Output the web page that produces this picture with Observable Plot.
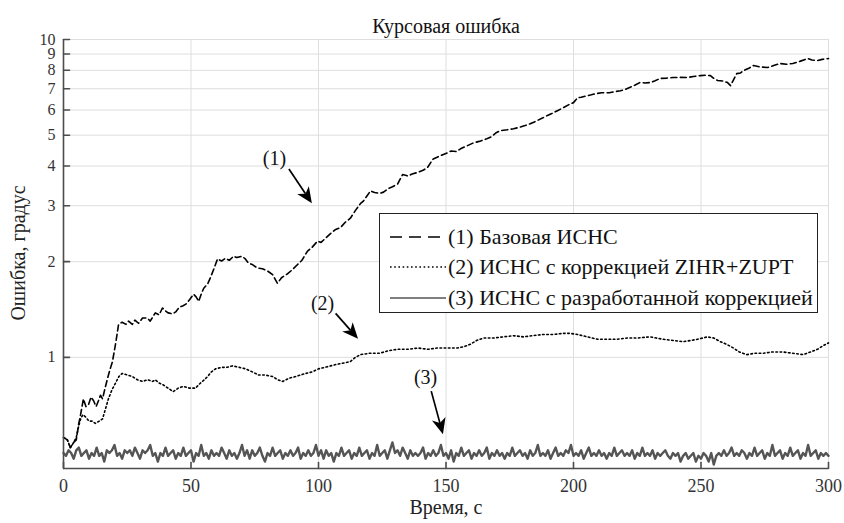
<!DOCTYPE html>
<html><head><meta charset="utf-8">
<script src="https://cdn.jsdelivr.net/npm/d3@7"></script>
<script src="https://cdn.jsdelivr.net/npm/@observablehq/plot@0.6"></script>
<style>
body{margin:0;background:#fff;}
#wrap{position:relative;width:844px;height:523px;font-family:'Liberation Serif',serif;}
#legend{position:absolute;left:379px;top:213px;width:437px;height:98px;border:1px solid #222;background:#fff;}
.row{position:absolute;left:9px;height:30px;display:flex;align-items:center;font-family:'Liberation Serif',serif;font-size:22px;color:#111;white-space:nowrap;}
.row svg{margin-right:1px;}
#ylabel{position:absolute;left:18px;top:253px;transform:translate(-50%,-50%) rotate(-90deg);font-family:'Liberation Serif',serif;font-size:20px;color:#222;white-space:nowrap;line-height:1;}
</style></head><body><div id="wrap"><div id="chart"></div><div id="legend"></div><div id="ylabel"></div></div>
<script>
const chartTitle = "Курсовая ошибка";
const xLabel = "Время, с";
const yLabel = "Ошибка, градус";
const seriesNames = ["(1) Базовая ИСНС", "(2) ИСНС с коррекцией ZIHR+ZUPT", "(3) ИСНС с разработанной коррекцией"];
const xTicks = [0, 50, 100, 150, 200, 250, 300];
const yTicks = [1, 2, 3, 4, 5, 6, 7, 8, 9, 10];
const xDomain = [0, 300];
const yDomain = [0.447, 10];

// (1) dashed: [time, error]
const series1 = [[0,0.56],[1.5,0.55],[2.7,0.52],[4,0.54],[5,0.55],[6,0.62],[6.7,0.66],[7.8,0.74],[8.8,0.70],[9.8,0.71],[10.8,0.75],[11.8,0.73],[12.8,0.70],[13.7,0.73],[14.5,0.76],[15.3,0.74],[16.3,0.80],[17.3,0.86],[18.3,0.92],[19.2,0.97],[20.4,1.10],[21.6,1.27],[23,1.29],[24.5,1.27],[25.5,1.30],[27,1.27],[28,1.31],[29.4,1.28],[31,1.33],[32.9,1.33],[34,1.30],[36,1.38],[37.5,1.36],[38.8,1.43],[40,1.40],[41,1.38],[42.7,1.37],[44,1.39],[45.5,1.44],[46.7,1.45],[48,1.47],[49.5,1.52],[51,1.58],[52,1.55],[53,1.50],[54,1.58],[55,1.65],[56.5,1.70],[57.6,1.78],[59,1.90],[60.4,2.04],[62,2.01],[63.5,2.05],[65,2.02],[66.7,2.08],[68,2.06],[70,2.08],[71.3,2.04],[72.5,1.98],[74,1.96],[76,1.91],[78,1.90],[80,1.87],[82,1.82],[83.9,1.71],[85.5,1.78],[87.8,1.83],[89.5,1.88],[91.8,1.96],[93.5,2.02],[95.7,2.16],[97.5,2.22],[99.6,2.32],[101,2.30],[103,2.38],[104.7,2.45],[106.5,2.52],[108.6,2.56],[110.5,2.66],[112.5,2.74],[114.5,2.90],[116.5,3.05],[117.6,3.10],[119,3.22],[120.4,3.34],[122,3.30],[124,3.28],[125.5,3.31],[127.5,3.40],[129,3.44],[131,3.51],[133,3.76],[135,3.72],[137,3.78],[139,3.82],[141,3.88],[142.7,3.95],[144,4.10],[145,4.21],[147,4.28],[149,4.35],[150.6,4.40],[152,4.46],[154,4.44],[155.7,4.53],[158,4.62],[160.8,4.73],[163,4.78],[166,4.87],[168,4.95],[169.5,5.08],[171.4,5.17],[174,5.20],[176.5,5.24],[179,5.30],[181,5.36],[183,5.43],[185,5.52],[188,5.67],[190,5.78],[191.5,5.85],[193.7,5.97],[196,6.10],[198.8,6.28],[200,6.33],[201.6,6.56],[203,6.58],[205.5,6.66],[207,6.70],[209,6.76],[211,6.80],[214,6.80],[216,6.85],[218.4,6.90],[220,6.95],[222,7.06],[224,7.18],[226,7.32],[228,7.30],[230,7.32],[232,7.42],[234,7.54],[236.5,7.56],[239,7.59],[242,7.60],[244.7,7.59],[247,7.65],[249.8,7.70],[252,7.72],[253.7,7.70],[255,7.55],[256.5,7.43],[258.5,7.40],[260.4,7.32],[261.6,7.16],[262.5,7.40],[264,7.81],[265.5,7.85],[266.7,7.98],[268.5,8.10],[270.6,8.28],[273,8.20],[276,8.16],[278.5,8.28],[281,8.40],[283.5,8.36],[286,8.40],[289,8.55],[291.8,8.71],[293.5,8.62],[295.7,8.59],[297.5,8.66],[300,8.71]];

// (2) dotted: [time, error]
const series2 = [[0,0.56],[1.5,0.55],[2.7,0.52],[4,0.54],[5,0.56],[6,0.61],[6.7,0.64],[7.6,0.66],[8.6,0.65],[10,0.63],[11.2,0.63],[12.5,0.62],[14,0.63],[15.3,0.64],[16.5,0.69],[17.6,0.74],[19,0.79],[20.4,0.83],[21.7,0.87],[23,0.89],[25,0.88],[27,0.87],[29,0.85],[31,0.84],[33,0.85],[35,0.84],[36,0.85],[37.5,0.83],[39,0.82],[41,0.80],[43,0.78],[45,0.80],[47,0.81],[49.5,0.80],[51.8,0.80],[53,0.82],[54.5,0.84],[56.5,0.87],[58,0.90],[59.6,0.92],[62,0.93],[64,0.93],[66.3,0.94],[69,0.93],[71.4,0.92],[74,0.90],[76.5,0.88],[79,0.88],[82,0.87],[84,0.85],[86,0.84],[88.5,0.86],[91,0.87],[93,0.88],[95,0.89],[97.5,0.90],[100,0.92],[102.5,0.93],[104.7,0.94],[107,0.95],[110,0.96],[112.5,0.97],[114.5,1.00],[116.5,1.02],[120,1.03],[124,1.03],[127.5,1.05],[131,1.06],[135,1.06],[139,1.07],[143,1.06],[146.6,1.07],[150.5,1.07],[154.5,1.07],[157,1.08],[159.6,1.10],[162,1.13],[164.7,1.15],[168.5,1.15],[172.5,1.16],[176.5,1.17],[180.4,1.16],[184,1.17],[188,1.18],[192,1.18],[196,1.19],[198.5,1.19],[201.6,1.18],[205.5,1.16],[209.4,1.14],[213,1.14],[217,1.14],[221,1.15],[225,1.15],[230,1.16],[232.5,1.15],[235,1.14],[239,1.13],[243,1.12],[246,1.13],[248.6,1.14],[252.5,1.16],[255,1.15],[257.6,1.12],[260,1.10],[262.7,1.07],[265,1.04],[268,1.02],[271,1.03],[274.5,1.03],[278,1.04],[282,1.04],[286,1.03],[290,1.02],[293,1.04],[295.7,1.06],[298,1.09],[300,1.11]];

// (3) solid gray, one value per second from t = 0 to 300
const series3 = [
0.50,0.49,0.51,0.50,0.48,0.51,0.52,0.49,0.50,0.51,
0.48,0.50,0.49,0.52,0.49,0.50,0.47,0.51,0.50,0.51,
0.53,0.49,0.50,0.48,0.51,0.50,0.51,0.49,0.52,0.50,
0.48,0.51,0.50,0.51,0.53,0.49,0.50,0.47,0.50,0.49,
0.52,0.49,0.50,0.51,0.48,0.50,0.49,0.52,0.49,0.50,
0.51,0.47,0.50,0.49,0.53,0.49,0.50,0.48,0.51,0.49,
0.50,0.49,0.52,0.50,0.48,0.51,0.49,0.50,0.48,0.50,
0.53,0.49,0.51,0.48,0.51,0.49,0.50,0.52,0.49,0.47,
0.50,0.49,0.52,0.49,0.50,0.51,0.48,0.50,0.49,0.51,
0.49,0.50,0.52,0.48,0.50,0.49,0.51,0.49,0.50,0.53,
0.49,0.51,0.48,0.51,0.49,0.50,0.47,0.50,0.49,0.52,
0.49,0.50,0.51,0.48,0.50,0.49,0.52,0.49,0.50,0.51,
0.48,0.50,0.49,0.53,0.49,0.50,0.51,0.48,0.51,0.54,
0.50,0.51,0.49,0.52,0.50,0.48,0.51,0.49,0.50,0.49,
0.50,0.52,0.48,0.50,0.49,0.51,0.49,0.50,0.53,0.49,
0.50,0.48,0.51,0.47,0.50,0.49,0.52,0.49,0.50,0.51,
0.48,0.50,0.49,0.51,0.49,0.50,0.52,0.48,0.50,0.49,
0.51,0.49,0.50,0.48,0.50,0.49,0.52,0.49,0.50,0.51,
0.49,0.50,0.48,0.51,0.49,0.50,0.53,0.49,0.50,0.49,
0.51,0.48,0.50,0.52,0.49,0.50,0.49,0.51,0.50,0.53,
0.49,0.50,0.49,0.51,0.48,0.50,0.52,0.49,0.50,0.49,
0.51,0.49,0.50,0.48,0.50,0.49,0.52,0.49,0.50,0.51,
0.49,0.50,0.49,0.51,0.48,0.50,0.49,0.52,0.49,0.50,
0.49,0.51,0.48,0.50,0.49,0.50,0.51,0.49,0.48,0.50,
0.49,0.50,0.47,0.49,0.50,0.48,0.49,0.50,0.47,0.49,
0.48,0.50,0.49,0.47,0.50,0.46,0.49,0.50,0.49,0.51,
0.49,0.50,0.52,0.49,0.50,0.49,0.51,0.50,0.48,0.50,
0.49,0.52,0.49,0.50,0.51,0.48,0.50,0.49,0.53,0.49,
0.50,0.51,0.48,0.50,0.49,0.52,0.49,0.50,0.51,0.48,
0.50,0.49,0.53,0.49,0.50,0.51,0.48,0.50,0.49,0.50,
0.49];

// annotations (data coordinates)
const annLabels = ["(1)", "(2)", "(3)"];
const annTextPos = [[82.7, 4.21], [101.6, 1.48], [142, 0.865]];
const annArrowFrom = [[88.6, 3.90], [106.9, 1.37], [144.4, 0.78]];
const annArrowTo = [[97.6, 3.04], [115.7, 1.14], [149.0, 0.571]];

const s1 = series1.map(([t, v]) => ({t, v}));
const s2 = series2.map(([t, v]) => ({t, v}));
const s3 = series3.map((v, i) => ({t: i, v}));
const ann = annLabels.map((label, i) => ({label, t: annTextPos[i][0], v: annTextPos[i][1]}));

const tickShape = {draw(ctx, l) { ctx.moveTo(0, 0); ctx.lineTo(0, -l); }};
const axisColor = "#4d4d4d";
const gridColor = "#dedede";

function arrowMark(index, scales) {
  const g = d3.create("svg:g");
  for (let i = 0; i < annArrowFrom.length; i++) {
    const fx = scales.x(annArrowFrom[i][0]), fy = scales.y(annArrowFrom[i][1]);
    const tx = scales.x(annArrowTo[i][0]), ty = scales.y(annArrowTo[i][1]);
    const dx = tx - fx, dy = ty - fy, L = Math.hypot(dx, dy);
    const ux = dx / L, uy = dy / L, nx = -uy, ny = ux;
    const hl = 16, hw = 7, notch = 4.5;
    const bx = tx - ux * hl, by = ty - uy * hl;
    const mx = tx - ux * (hl - notch), my = ty - uy * (hl - notch);
    g.append("line").attr("x1", fx).attr("y1", fy).attr("x2", mx).attr("y2", my)
      .attr("stroke", "#000").attr("stroke-width", 1.7);
    g.append("path")
      .attr("d", `M${tx},${ty}L${bx + nx * hw},${by + ny * hw}L${mx},${my}L${bx - nx * hw},${by - ny * hw}Z`)
      .attr("fill", "#000");
  }
  return g.node();
}

const chart = Plot.plot({
  width: 844,
  height: 523,
  marginLeft: 63,
  marginRight: 16,
  marginTop: 39,
  marginBottom: 55,
  style: {fontFamily: "'Liberation Serif', serif", fontSize: "17px", background: "#fff", overflow: "visible"},
  x: {domain: xDomain, axis: null},
  y: {type: "log", domain: yDomain, axis: null},
  marks: [
    Plot.gridX(xTicks, {stroke: gridColor, strokeOpacity: 1, strokeWidth: 1}),
    Plot.gridY(yTicks, {stroke: gridColor, strokeOpacity: 1, strokeWidth: 1}),
    Plot.line(s3, {x: "t", y: "v", stroke: "#555", strokeWidth: 2.4}),
    Plot.line(s2, {x: "t", y: "v", stroke: "#000", strokeWidth: 1.6, strokeDasharray: "1.6,2.6"}),
    Plot.line(s1, {x: "t", y: "v", stroke: "#000", strokeWidth: 1.6, strokeDasharray: "6,3.5"}),
    Plot.ruleX([xDomain[0]], {stroke: axisColor, strokeWidth: 1.6}),
    Plot.ruleY([yDomain[0]], {stroke: axisColor, strokeWidth: 1.6}),
    Plot.vector(xTicks, {x: d => d, frameAnchor: "bottom", length: 6, rotate: 0, anchor: "start", shape: tickShape, stroke: axisColor, strokeWidth: 1.6}),
    Plot.vector(yTicks, {y: d => d, frameAnchor: "left", length: 6, rotate: 90, anchor: "start", shape: tickShape, stroke: axisColor, strokeWidth: 1.6}),
    Plot.text(xTicks, {x: d => d, frameAnchor: "bottom", dy: 23, text: d => String(d), fill: "#333", fontSize: 18}),
    Plot.text(yTicks, {y: d => d, frameAnchor: "left", dx: -8, textAnchor: "end", text: d => String(d), fill: "#333", fontSize: 16}),
    Plot.text([xLabel], {frameAnchor: "bottom", dy: 45, text: d => d, fill: "#222", fontSize: 20}),
    Plot.text([chartTitle], {frameAnchor: "top", dy: -21, text: d => d, fill: "#111", fontSize: 20}),
    Plot.text(ann, {x: "t", y: "v", text: "label", fill: "#111", fontSize: 20}),
    arrowMark
  ]
});
document.getElementById("chart").appendChild(chart);
document.getElementById("ylabel").textContent = yLabel;

// legend
const legendStyles = [
  {stroke: "#000", dash: "12,7"},
  {stroke: "#000", dash: "1.6,2.6"},
  {stroke: "#555", dash: null}
];
const legend = document.getElementById("legend");
const rowTops = [8, 38, 69];
seriesNames.forEach((name, i) => {
  const row = document.createElement("div");
  row.className = "row";
  row.style.top = rowTops[i] + "px";
  const st = legendStyles[i];
  row.innerHTML = `<svg width="58" height="10"><line x1="1" y1="5" x2="57" y2="5" stroke="${st.stroke}" stroke-width="1.6" ${st.dash ? `stroke-dasharray="${st.dash}"` : ""}/></svg><span>${name}</span>`;
  legend.appendChild(row);
});
</script>
</body></html>
